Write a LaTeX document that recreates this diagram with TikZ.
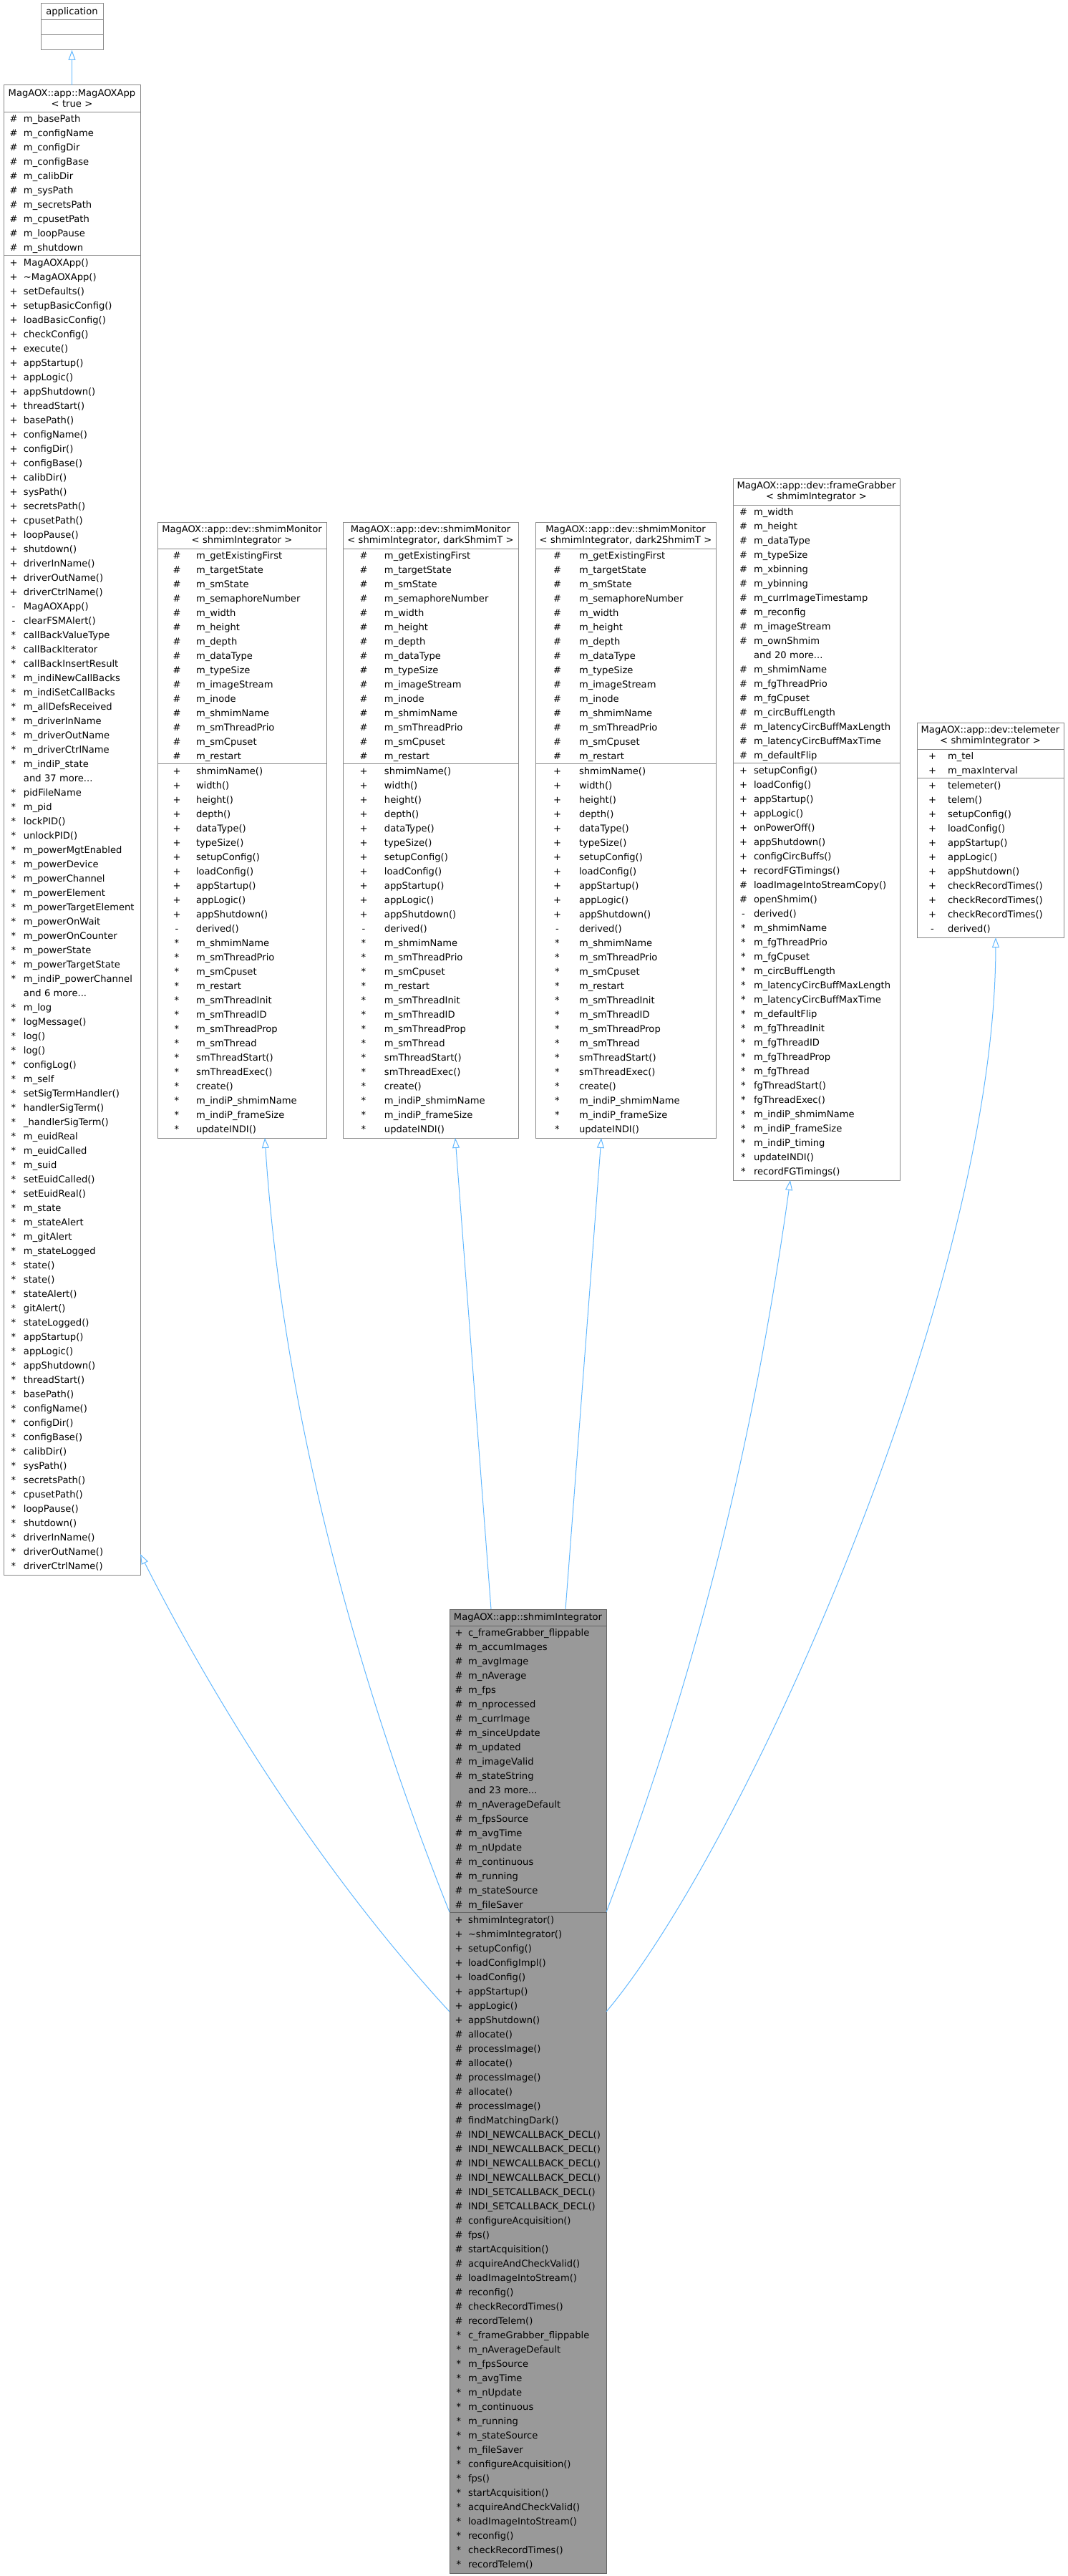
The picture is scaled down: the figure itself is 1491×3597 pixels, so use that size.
\documentclass[tikz,border=0pt]{standalone}
\usepackage{fontspec}
\setmainfont{DejaVu Sans}
\usetikzlibrary{positioning,arrows.meta}
\definecolor{boxline}{HTML}{888888}
\definecolor{curline}{HTML}{666666}
\definecolor{curfill}{HTML}{999999}
\definecolor{inhblue}{HTML}{63B8FF}
\newlength{\mk}
\newcommand{\rw}[2]{\makebox[\mk][c]{#1}#2\\}
\newcommand{\rows}[2]{\noindent\setlength{\mk}{#1}\begin{tabular}{@{}l@{}}#2\end{tabular}}
\newcommand{\monattr}{%
\rw{\#}{m\_getExistingFirst}\rw{\#}{m\_targetState}\rw{\#}{m\_smState}%
\rw{\#}{m\_semaphoreNumber}\rw{\#}{m\_width}\rw{\#}{m\_height}\rw{\#}{m\_depth}%
\rw{\#}{m\_dataType}\rw{\#}{m\_typeSize}\rw{\#}{m\_imageStream}\rw{\#}{m\_inode}%
\rw{\#}{m\_shmimName}\rw{\#}{m\_smThreadPrio}\rw{\#}{m\_smCpuset}\rw{\#}{m\_restart}}
\newcommand{\monmeth}{%
\rw{+}{shmimName()}\rw{+}{width()}\rw{+}{height()}\rw{+}{depth()}\rw{+}{dataType()}%
\rw{+}{typeSize()}\rw{+}{setupConfig()}\rw{+}{loadConfig()}\rw{+}{appStartup()}%
\rw{+}{appLogic()}\rw{+}{appShutdown()}\rw{-}{derived()}\rw{*}{m\_shmimName}%
\rw{*}{m\_smThreadPrio}\rw{*}{m\_smCpuset}\rw{*}{m\_restart}\rw{*}{m\_smThreadInit}%
\rw{*}{m\_smThreadID}\rw{*}{m\_smThreadProp}\rw{*}{m\_smThread}\rw{*}{smThreadStart()}%
\rw{*}{smThreadExec()}\rw{*}{create()}\rw{*}{m\_indiP\_shmimName}%
\rw{*}{m\_indiP\_frameSize}\rw{*}{updateINDI()}}
\tikzset{
    cls/.style={draw=boxline, line width=1pt, fill=white, inner sep=0pt, outer sep=0pt},
    cur/.style={draw=curline, fill=curfill},
    hdr/.style={cls, text width=#1, align=center, minimum height=37pt, font=\fontsize{13.1}{15}\selectfont},
    fld/.style={cls, text width=#1, align=left, font=\fontsize{13.1}{20}\selectfont},
    inh/.style={draw=inhblue, line width=1pt, -{Triangle[open, length=14pt, width=10pt]}}
}

\begin{document}
\begin{tikzpicture}[x=1pt, y=-1pt]
        \useasboundingbox (0,0) rectangle (1491,3597);

        \node[hdr=87pt, minimum height=23pt, anchor=north west] (apph) at (57,5) {application};
        \node[fld=87pt, minimum height=21pt, below=0pt of apph] (appa) {};
        \node[fld=87pt, minimum height=21pt, below=0pt of appa] (appm) {};

        \node[hdr=191pt, anchor=north west] (magh) at (5,119) {MagAOX::app::MagAOXApp\\< true >};
        \node[fld=191pt, below=0pt of magh] (maga) {\rows{28pt}{%
            \rw{\#}{m\_basePath}\rw{\#}{m\_configName}\rw{\#}{m\_configDir}\rw{\#}{m\_configBase}%
            \rw{\#}{m\_calibDir}\rw{\#}{m\_sysPath}\rw{\#}{m\_secretsPath}\rw{\#}{m\_cpusetPath}%
            \rw{\#}{m\_loopPause}\rw{\#}{m\_shutdown}}};
        \node[fld=191pt, inner ysep=1.5pt, below=0pt of maga] (magm) {\rows{28pt}{%
            \rw{+}{MagAOXApp()}\rw{+}{\textasciitilde MagAOXApp()}\rw{+}{setDefaults()}%
            \rw{+}{setupBasicConfig()}\rw{+}{loadBasicConfig()}\rw{+}{checkConfig()}%
            \rw{+}{execute()}\rw{+}{appStartup()}\rw{+}{appLogic()}\rw{+}{appShutdown()}%
            \rw{+}{threadStart()}\rw{+}{basePath()}\rw{+}{configName()}\rw{+}{configDir()}%
            \rw{+}{configBase()}\rw{+}{calibDir()}\rw{+}{sysPath()}\rw{+}{secretsPath()}%
            \rw{+}{cpusetPath()}\rw{+}{loopPause()}\rw{+}{shutdown()}\rw{+}{driverInName()}%
            \rw{+}{driverOutName()}\rw{+}{driverCtrlName()}\rw{-}{MagAOXApp()}\rw{-}{clearFSMAlert()}%
            \rw{*}{callBackValueType}\rw{*}{callBackIterator}\rw{*}{callBackInsertResult}%
            \rw{*}{m\_indiNewCallBacks}\rw{*}{m\_indiSetCallBacks}\rw{*}{m\_allDefsReceived}%
            \rw{*}{m\_driverInName}\rw{*}{m\_driverOutName}\rw{*}{m\_driverCtrlName}%
            \rw{*}{m\_indiP\_state}\rw{}{and 37 more...}\rw{*}{pidFileName}\rw{*}{m\_pid}%
            \rw{*}{lockPID()}\rw{*}{unlockPID()}\rw{*}{m\_powerMgtEnabled}\rw{*}{m\_powerDevice}%
            \rw{*}{m\_powerChannel}\rw{*}{m\_powerElement}\rw{*}{m\_powerTargetElement}%
            \rw{*}{m\_powerOnWait}\rw{*}{m\_powerOnCounter}\rw{*}{m\_powerState}%
            \rw{*}{m\_powerTargetState}\rw{*}{m\_indiP\_powerChannel}\rw{}{and 6 more...}%
            \rw{*}{m\_log}\rw{*}{logMessage()}\rw{*}{log()}\rw{*}{log()}\rw{*}{configLog()}%
            \rw{*}{m\_self}\rw{*}{setSigTermHandler()}\rw{*}{handlerSigTerm()}%
            \rw{*}{\_handlerSigTerm()}\rw{*}{m\_euidReal}\rw{*}{m\_euidCalled}\rw{*}{m\_suid}%
            \rw{*}{setEuidCalled()}\rw{*}{setEuidReal()}\rw{*}{m\_state}\rw{*}{m\_stateAlert}%
            \rw{*}{m\_gitAlert}\rw{*}{m\_stateLogged}\rw{*}{state()}\rw{*}{state()}%
            \rw{*}{stateAlert()}\rw{*}{gitAlert()}\rw{*}{stateLogged()}\rw{*}{appStartup()}%
            \rw{*}{appLogic()}\rw{*}{appShutdown()}\rw{*}{threadStart()}\rw{*}{basePath()}%
            \rw{*}{configName()}\rw{*}{configDir()}\rw{*}{configBase()}\rw{*}{calibDir()}%
            \rw{*}{sysPath()}\rw{*}{secretsPath()}\rw{*}{cpusetPath()}\rw{*}{loopPause()}%
            \rw{*}{shutdown()}\rw{*}{driverInName()}\rw{*}{driverOutName()}\rw{*}{driverCtrlName()}}};

        \node[hdr=236pt, anchor=north west] (mon1h) at (220,729) {MagAOX::app::dev::shmimMonitor\\< shmimIntegrator >};
        \node[fld=236pt, below=0pt of mon1h] (mon1a) {\rows{54pt}{\monattr}};
        \node[fld=236pt, inner ysep=1.5pt, below=0pt of mon1a] (mon1m) {\rows{54pt}{\monmeth}};

        \node[hdr=245pt, anchor=north west] (mon2h) at (479,729) {MagAOX::app::dev::shmimMonitor\\< shmimIntegrator, darkShmimT >};
        \node[fld=245pt, below=0pt of mon2h] (mon2a) {\rows{58pt}{\monattr}};
        \node[fld=245pt, inner ysep=1.5pt, below=0pt of mon2a] (mon2m) {\rows{58pt}{\monmeth}};

        \node[hdr=252pt, anchor=north west] (mon3h) at (748,729) {MagAOX::app::dev::shmimMonitor\\< shmimIntegrator, dark2ShmimT >};
        \node[fld=252pt, below=0pt of mon3h] (mon3a) {\rows{61pt}{\monattr}};
        \node[fld=252pt, inner ysep=1.5pt, below=0pt of mon3a] (mon3m) {\rows{61pt}{\monmeth}};

        \node[hdr=233pt, anchor=north west] (fgh) at (1024,668) {MagAOX::app::dev::frameGrabber\\< shmimIntegrator >};
        \node[fld=233pt, below=0pt of fgh] (fga) {\rows{29pt}{%
            \rw{\#}{m\_width}\rw{\#}{m\_height}\rw{\#}{m\_dataType}\rw{\#}{m\_typeSize}%
            \rw{\#}{m\_xbinning}\rw{\#}{m\_ybinning}\rw{\#}{m\_currImageTimestamp}\rw{\#}{m\_reconfig}%
            \rw{\#}{m\_imageStream}\rw{\#}{m\_ownShmim}\rw{}{and 20 more...}\rw{\#}{m\_shmimName}%
            \rw{\#}{m\_fgThreadPrio}\rw{\#}{m\_fgCpuset}\rw{\#}{m\_circBuffLength}%
            \rw{\#}{m\_latencyCircBuffMaxLength}\rw{\#}{m\_latencyCircBuffMaxTime}\rw{\#}{m\_defaultFlip}}};
        \node[fld=233pt, inner ysep=1.5pt, below=0pt of fga] (fgm) {\rows{29pt}{%
            \rw{+}{setupConfig()}\rw{+}{loadConfig()}\rw{+}{appStartup()}\rw{+}{appLogic()}%
            \rw{+}{onPowerOff()}\rw{+}{appShutdown()}\rw{+}{configCircBuffs()}\rw{+}{recordFGTimings()}%
            \rw{\#}{loadImageIntoStreamCopy()}\rw{\#}{openShmim()}\rw{-}{derived()}%
            \rw{*}{m\_shmimName}\rw{*}{m\_fgThreadPrio}\rw{*}{m\_fgCpuset}\rw{*}{m\_circBuffLength}%
            \rw{*}{m\_latencyCircBuffMaxLength}\rw{*}{m\_latencyCircBuffMaxTime}\rw{*}{m\_defaultFlip}%
            \rw{*}{m\_fgThreadInit}\rw{*}{m\_fgThreadID}\rw{*}{m\_fgThreadProp}\rw{*}{m\_fgThread}%
            \rw{*}{fgThreadStart()}\rw{*}{fgThreadExec()}\rw{*}{m\_indiP\_shmimName}%
            \rw{*}{m\_indiP\_frameSize}\rw{*}{m\_indiP\_timing}\rw{*}{updateINDI()}\rw{*}{recordFGTimings()}}};

        \node[hdr=205pt, anchor=north west] (telh) at (1281,1009) {MagAOX::app::dev::telemeter\\< shmimIntegrator >};
        \node[fld=205pt, below=0pt of telh] (tela) {\rows{43pt}{\rw{+}{m\_tel}\rw{+}{m\_maxInterval}}};
        \node[fld=205pt, inner ysep=1.5pt, below=0pt of tela] (telm) {\rows{43pt}{%
            \rw{+}{telemeter()}\rw{+}{telem()}\rw{+}{setupConfig()}\rw{+}{loadConfig()}%
            \rw{+}{appStartup()}\rw{+}{appLogic()}\rw{+}{appShutdown()}\rw{+}{checkRecordTimes()}%
            \rw{+}{checkRecordTimes()}\rw{+}{checkRecordTimes()}\rw{-}{derived()}}};

        \node[hdr=219pt, cur, minimum height=23pt, anchor=north west] (integh) at (628,2247) {MagAOX::app::shmimIntegrator};
        \node[fld=219pt, cur, below=0pt of integh] (intega) {\rows{26pt}{%
            \rw{+}{c\_frameGrabber\_flippable}\rw{\#}{m\_accumImages}\rw{\#}{m\_avgImage}%
            \rw{\#}{m\_nAverage}\rw{\#}{m\_fps}\rw{\#}{m\_nprocessed}\rw{\#}{m\_currImage}%
            \rw{\#}{m\_sinceUpdate}\rw{\#}{m\_updated}\rw{\#}{m\_imageValid}\rw{\#}{m\_stateString}%
            \rw{}{and 23 more...}\rw{\#}{m\_nAverageDefault}\rw{\#}{m\_fpsSource}\rw{\#}{m\_avgTime}%
            \rw{\#}{m\_nUpdate}\rw{\#}{m\_continuous}\rw{\#}{m\_running}\rw{\#}{m\_stateSource}%
            \rw{\#}{m\_fileSaver}}};
        \node[fld=219pt, cur, inner ysep=1.5pt, below=0pt of intega] (integm) {\rows{26pt}{%
            \rw{+}{shmimIntegrator()}\rw{+}{\textasciitilde shmimIntegrator()}\rw{+}{setupConfig()}%
            \rw{+}{loadConfigImpl()}\rw{+}{loadConfig()}\rw{+}{appStartup()}\rw{+}{appLogic()}%
            \rw{+}{appShutdown()}\rw{\#}{allocate()}\rw{\#}{processImage()}\rw{\#}{allocate()}%
            \rw{\#}{processImage()}\rw{\#}{allocate()}\rw{\#}{processImage()}\rw{\#}{findMatchingDark()}%
            \rw{\#}{INDI\_NEWCALLBACK\_DECL()}\rw{\#}{INDI\_NEWCALLBACK\_DECL()}%
            \rw{\#}{INDI\_NEWCALLBACK\_DECL()}\rw{\#}{INDI\_NEWCALLBACK\_DECL()}%
            \rw{\#}{INDI\_SETCALLBACK\_DECL()}\rw{\#}{INDI\_SETCALLBACK\_DECL()}%
            \rw{\#}{configureAcquisition()}\rw{\#}{fps()}\rw{\#}{startAcquisition()}%
            \rw{\#}{acquireAndCheckValid()}\rw{\#}{loadImageIntoStream()}\rw{\#}{reconfig()}%
            \rw{\#}{checkRecordTimes()}\rw{\#}{recordTelem()}\rw{*}{c\_frameGrabber\_flippable}%
            \rw{*}{m\_nAverageDefault}\rw{*}{m\_fpsSource}\rw{*}{m\_avgTime}\rw{*}{m\_nUpdate}%
            \rw{*}{m\_continuous}\rw{*}{m\_running}\rw{*}{m\_stateSource}\rw{*}{m\_fileSaver}%
            \rw{*}{configureAcquisition()}\rw{*}{fps()}\rw{*}{startAcquisition()}%
            \rw{*}{acquireAndCheckValid()}\rw{*}{loadImageIntoStream()}\rw{*}{reconfig()}%
            \rw{*}{checkRecordTimes()}\rw{*}{recordTelem()}}};

        \draw[inh] (magh.north) -- (appm.south);
        \draw[inh] ([xshift=-51.5pt]integh.north) -- ([xshift=34.5pt]mon2m.south);
        \draw[inh] ([xshift=52.5pt]integh.north) -- ([xshift=-34pt]mon3m.south);
        \draw[inh] (intega.south west) .. controls (508,2370) and (396,1989) .. ([xshift=32pt]mon1m.south);
        \draw[inh] (intega.south east) .. controls (980,2320) and (1055,1998) .. ([xshift=-36.5pt]fgm.south);
        \draw[inh] ([yshift=-139pt]intega.south west) .. controls (444,2609) and (297,2370) .. ([yshift=29pt]magm.south east);
        \draw[inh] ([yshift=-139pt]intega.south east) .. controls (1040,2580) and (1390,1800) .. ([xshift=7.5pt]telm.south);
\end{tikzpicture}
\end{document}
